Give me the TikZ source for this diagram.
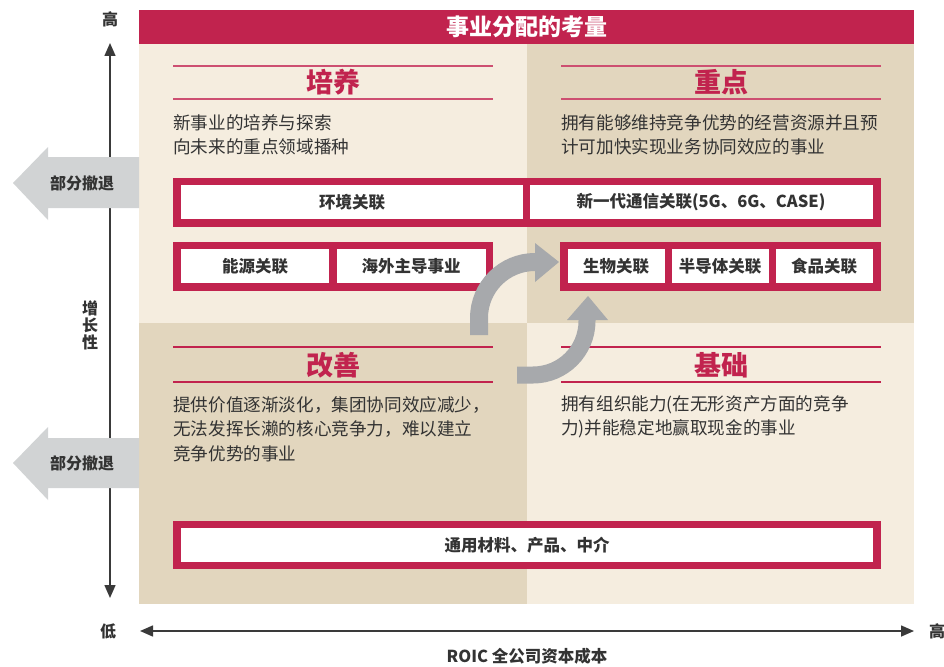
\documentclass[tikz,border=0pt]{standalone}
\usepackage{fontspec}
\setmainfont{Noto Sans CJK SC}
\usetikzlibrary{arrows.meta}
\definecolor{nred}{HTML}{C1234E}
\definecolor{lightbg}{HTML}{F5EDDF}
\definecolor{darkbg}{HTML}{E2D6BE}
\definecolor{retreat}{HTML}{D1D3D4}
\definecolor{cycgrey}{HTML}{A7A9AC}
\definecolor{txt}{HTML}{333333}
\definecolor{axis}{HTML}{3A3A3A}
\tikzset{
  qtitle/.style={text=nred,font=\fontsize{27}{30}\selectfont\bfseries,inner sep=0},
  body/.style={text=txt,font=\fontsize{17.6}{24.5}\selectfont,align=left,anchor=west,inner sep=0},
  boxtext/.style={text=txt,font=\fontsize{16.5}{20}\selectfont\bfseries,inner sep=0},
  axlabel/.style={text=txt,font=\fontsize{16}{17}\selectfont\bfseries,inner sep=0,align=center},
  rule/.style={draw=nred!80,line width=1.3pt},
  frame/.style={fill=nred,draw=none},
  wbox/.style={fill=white,draw=none},
}
\begin{document}
\begin{tikzpicture}[x=1pt,y=-1pt]
\useasboundingbox (0,0) rectangle (944,666);
% quadrants
\fill[lightbg] (139,44) rectangle (527,323);
\fill[darkbg] (527,44) rectangle (914,323);
\fill[darkbg] (139,323) rectangle (527,604);
\fill[lightbg] (527,323) rectangle (914,604);
% title bar
\fill[nred] (139,10) rectangle (914,44);
\node[text=white,font=\fontsize{23}{25}\selectfont\bfseries,inner sep=0] (title) at (527,27) {事业分配的考量};

% axes
\coordinate (vtop) at (110,43);
\coordinate (vbot) at (110,598);
\draw[axis,line width=1.5pt,{Triangle[length=13pt,width=11pt]}-{Triangle[length=13pt,width=11pt]}] (vtop) -- (vbot);
\coordinate (hl) at (140,631);
\coordinate (hr) at (914,631);
\draw[axis,line width=1.5pt,{Triangle[length=13pt,width=11pt]}-{Triangle[length=13pt,width=11pt]}] (hl) -- (hr);
\node[axlabel] (hiY) at (110,19) {高};
\node[axlabel] (loX) at (108,631) {低};
\node[axlabel,anchor=west] (hiX) at (929,631) {高};
\node[axlabel] (growth) at (90,325) {增\\长\\性};
\node[text=txt,font=\fontsize{16.5}{18}\selectfont\bfseries,inner sep=0] (roic) at (527,656) {ROIC 全公司资本成本};

% retreat arrows
\fill[retreat] (139,157) -- (48,157) -- (48,147) -- (13,183) -- (48,220) -- (48,208) -- (139,208) -- cycle;
\node[axlabel] (ret1) at (82,183) {部分撤退};
\fill[retreat] (139,438) -- (48,438) -- (48,427) -- (13,463) -- (48,500) -- (48,488) -- (139,488) -- cycle;
\node[axlabel] (ret2) at (82,463) {部分撤退};

% quadrant titles
\draw[rule] (173,66) -- (493,66);
\draw[rule] (173,99) -- (493,99);
\node[qtitle] (q1) at (333,82) {培养};
\node[body] (q1t) at (173,135) {新事业的培养与探索\\向未来的重点领域播种};

\draw[rule] (561,66) -- (881,66);
\draw[rule] (561,99) -- (881,99);
\node[qtitle] (q2) at (721,82) {重点};
\node[body] (q2t) at (561,135) {拥有能够维持竞争优势的经营资源并且预\\计可加快实现业务协同效应的事业};

\draw[rule,draw=nred] (173,347) -- (493,347);
\draw[rule,draw=nred] (173,382) -- (493,382);
\node[qtitle] (q3) at (333,365) {改善};
\node[body] (q3t) at (173,429) {提供价值逐渐淡化，集团协同效应减少，\\无法发挥长濑的核心竞争力，难以建立\\竞争优势的事业};

\draw[rule,draw=nred] (561,347) -- (881,347);
\draw[rule,draw=nred] (561,382) -- (881,382);
\node[qtitle] (q4) at (721,365) {基础};
\node[body] (q4t) at (561,417) {拥有组织能力(在无形资产方面的竞争\\力)并能稳定地赢取现金的事业};

% box row 1
\fill[frame] (173,178) rectangle (881,227);
\fill[wbox] (181,185) rectangle (523,219);
\fill[wbox] (530,185) rectangle (873,219);
\node[boxtext] (env) at (352,202) {环境关联};
\node[boxtext] (comm) at (701,202) {新一代通信关联(5G、6G、CASE)};

% box row 2 left
\fill[frame] (173,242) rectangle (493,291);
\fill[wbox] (181,249) rectangle (329,283);
\fill[wbox] (337,249) rectangle (486,283);
\node[boxtext] (energy) at (255,266) {能源关联};
\node[boxtext] (overseas) at (411,266) {海外主导事业};

% box row 2 right
\fill[frame] (560,242) rectangle (881,291);
\fill[wbox] (568,249) rectangle (665,283);
\fill[wbox] (672,249) rectangle (769,283);
\fill[wbox] (776,249) rectangle (873,283);
\node[boxtext] (bio) at (616,266) {生物关联};
\node[boxtext] (semi) at (720,266) {半导体关联};
\node[boxtext] (food) at (824,266) {食品关联};

% bottom box
\fill[frame] (173,521) rectangle (881,569);
\fill[wbox] (181,528) rectangle (873,562);
\node[boxtext] (gen) at (527,545) {通用材料、产品、中介};

% cycle arrows
\draw[cycgrey,line width=18pt] (479,335) -- (479,318) arc[start angle=180,end angle=270,radius=56] -- (537,262);
\fill[cycgrey] (535,243) -- (559,262) -- (535,282) -- cycle;
\draw[cycgrey,line width=17pt] (517,375) -- (533,375) arc[start angle=90,end angle=0,radius=54] -- (587,318);
\fill[cycgrey] (567,320) -- (588,296) -- (608,320) -- cycle;
\end{tikzpicture}
\end{document}
